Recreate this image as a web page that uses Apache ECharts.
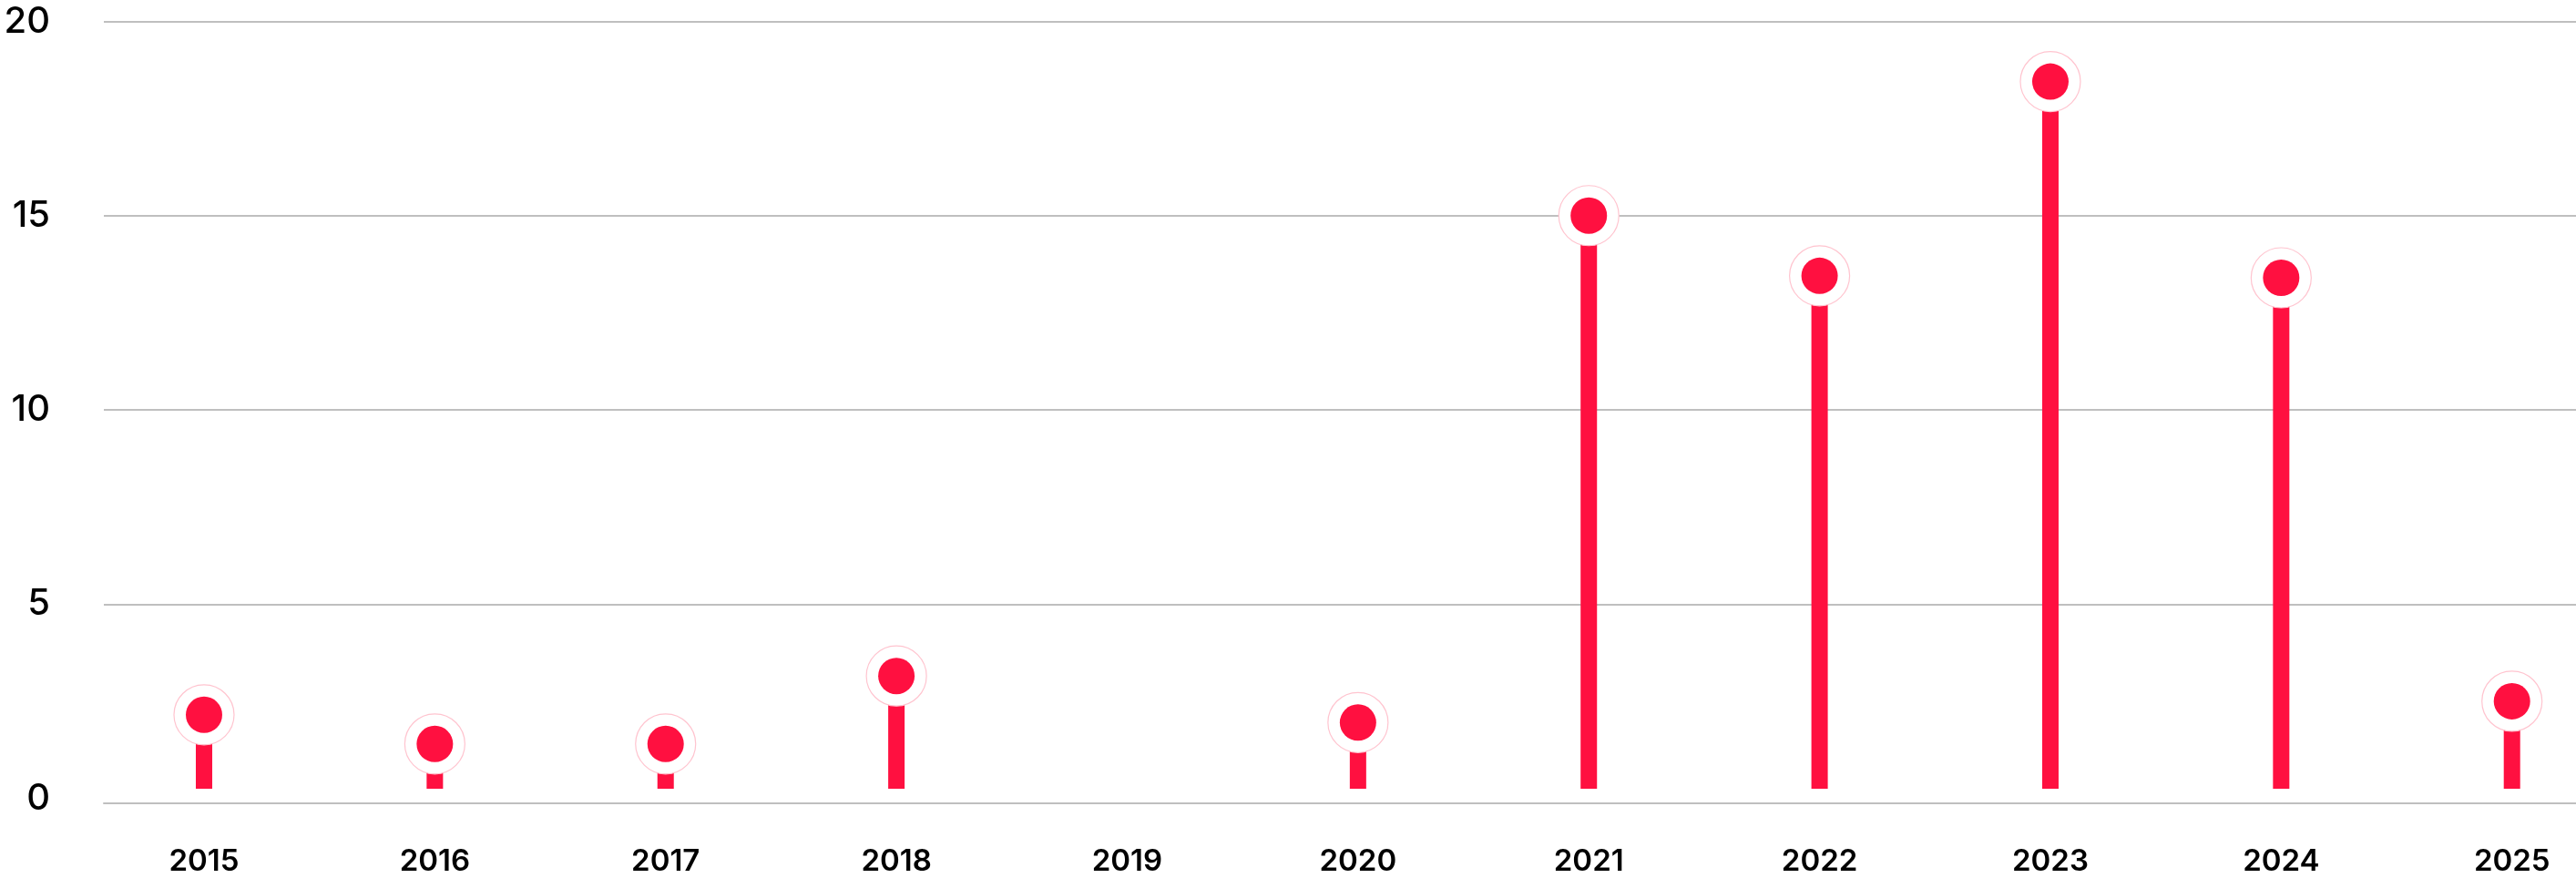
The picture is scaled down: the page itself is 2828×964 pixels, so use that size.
<!DOCTYPE html>
<html>
<head>
<meta charset="utf-8">
<script src="https://cdn.jsdelivr.net/npm/echarts@6/dist/echarts.min.js"></script>
<style>
  html, body { margin: 0; padding: 0; background: #ffffff; }
  #chart { width: 2828px; height: 964px; }
</style>
</head>
<body>
<div id="chart"></div>
<script>
// Yearly counts (2019 has no entry)
const years = ['2015', '2016', '2017', '2018', '2019', '2020', '2021', '2022', '2023', '2024', '2025'];
const counts = [2.15, 1.4, 1.4, 3.15, null, 1.95, 15, 13.45, 18.45, 13.4, 2.5];
const yTicks = { min: 0, max: 20, interval: 5 };

const RED = '#ff1040';
const GRID_TOP = 23.5;
const GRID_HEIGHT = 853;
const FONT = 'Inter, "Noto Sans", sans-serif';

const points = years.map((y, i) => [i, counts[i]]);

const chart = echarts.init(document.getElementById('chart'), null, { renderer: 'canvas' });

chart.setOption({
  backgroundColor: '#ffffff',
  animation: false,
  grid: [
    // frame for the value scale and its gridlines
    { left: 114, right: 0, top: GRID_TOP, height: GRID_HEIGHT, outerBoundsMode: 'none' },
    // frame for the yearly stems and dots (wider than the view on the right)
    { left: 97.3, width: 2787.1, top: GRID_TOP, height: GRID_HEIGHT, outerBoundsMode: 'none' }
  ],
  xAxis: [
    {
      gridIndex: 0, type: 'category', data: years,
      offset: 5.5,
      axisLine: { show: true, onZero: false, lineStyle: { color: '#bfbfbf', width: 2 } },
      axisTick: { show: false },
      axisLabel: { show: false }
    },
    {
      gridIndex: 1, type: 'category', data: years,
      axisLine: { show: false, onZero: false },
      axisTick: { show: false },
      axisLabel: {
        margin: 54, fontSize: 33, lineHeight: 32, fontWeight: 600,
        fontFamily: FONT, color: '#000000'
      }
    }
  ],
  yAxis: [
    {
      gridIndex: 0, type: 'value',
      min: yTicks.min, max: yTicks.max, interval: yTicks.interval,
      axisLine: { show: false },
      axisTick: { show: false },
      axisLabel: {
        margin: 59, fontSize: 40, fontWeight: 500,
        fontFamily: FONT, color: '#000000'
      },
      splitLine: { show: true, showMinLine: false, lineStyle: { color: '#bfbfbf', width: 2 } }
    },
    {
      gridIndex: 1, type: 'value',
      min: yTicks.min, max: yTicks.max, interval: yTicks.interval,
      show: false,
      splitLine: { show: false }
    }
  ],
  series: [
    {
      // vertical stems, lifted slightly off the baseline
      type: 'custom',
      xAxisIndex: 1, yAxisIndex: 1,
      z: 1,
      clip: false,
      data: points,
      renderItem: function (params, api) {
        const v = api.value(1);
        if (v == null || isNaN(v)) return;
        const top = api.coord([api.value(0), v]);
        const base = api.coord([api.value(0), 0]);
        const w = 18;
        const bottom = base[1] - 10.5;
        return {
          type: 'rect',
          shape: { x: top[0] - w / 2, y: top[1], width: w, height: bottom - top[1] },
          style: { fill: RED }
        };
      }
    },
    {
      // white halo around each dot
      type: 'scatter',
      xAxisIndex: 1, yAxisIndex: 1,
      z: 2,
      symbol: 'circle',
      symbolSize: 66,
      data: points,
      itemStyle: { color: '#ffffff', borderColor: '#ffc4cf', borderWidth: 1.2, opacity: 1 },
      emphasis: { disabled: true }
    },
    {
      type: 'scatter',
      xAxisIndex: 1, yAxisIndex: 1,
      z: 3,
      symbol: 'circle',
      symbolSize: 40,
      data: points,
      itemStyle: { color: RED, opacity: 1 },
      emphasis: { disabled: true }
    }
  ]
});
</script>
</body>
</html>
